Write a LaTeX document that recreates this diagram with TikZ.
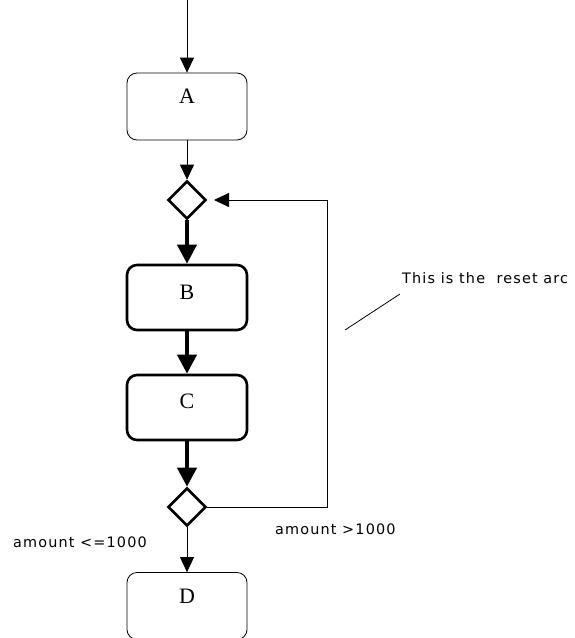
\documentclass[tikz,border=0pt]{standalone}
\usepackage{fontspec}
\setmainfont{Liberation Serif}
\newfontfamily\lblfont[LetterSpace=8]{DejaVu Sans}
\usetikzlibrary{arrows.meta,shapes.geometric}
\begin{document}
\begin{tikzpicture}[x=1pt,y=-1pt,
  thinbox/.style={draw, line width=0.8pt, rounded corners=10pt, minimum width=120pt, minimum height=67pt},
  thickbox/.style={draw, line width=2.6pt, rounded corners=10pt, minimum width=120pt, minimum height=65pt},
  dec/.style={draw, diamond, line width=2.6pt, minimum width=38pt, minimum height=38pt, inner sep=0pt},
  thinarrow/.style={line width=0.8pt, -{Triangle[length=15pt,width=14pt]}},
  thickarrow/.style={line width=4pt, -{Triangle[length=19pt,width=19pt]}},
  lbl/.style={font=\lblfont\fontsize{14.4}{16}\selectfont, inner sep=0pt},
  boxtext/.style={font=\fontsize{22}{24}\selectfont, inner sep=0pt}
]
\useasboundingbox (0,0) rectangle (574,638);
\clip (0,0) rectangle (574,638);
\coordinate (top) at (187,0);
\node[thinbox] (A) at (187,106.5) {};
\node[boxtext] at (187,96) {A};
\node[dec] (d1) at (187,200) {};
\node[thickbox] (B) at (187,297.5) {};
\node[boxtext] at (187,292) {B};
\node[thickbox] (C) at (187,407.5) {};
\node[boxtext] at (187,401) {C};
\node[dec] (d2) at (187,507) {};
\node[thinbox] (D) at (187,606) {};
\node[boxtext] at (187,596) {D};
\coordinate (c1) at (327,507);
\coordinate (c2) at (327,200);
\coordinate (c3) at (214,200);
\draw[thinarrow] (top) -- (A.north);
\draw[thinarrow] (A.south) -- (d1.north);
\draw[thickarrow] (d1.south) -- (B.north);
\draw[thickarrow] (B.south) -- (C.north);
\draw[thickarrow] (C.south) -- (d2.north);
\draw[thinarrow] (d2.south) -- (D.north);
\draw[thinarrow] (d2.east) -- (c1) -- (c2) -- (c3);
\node[lbl, anchor=west] (l1) at (13,542) {amount <=1000};
\node[lbl, anchor=west] (l2) at (275,529) {amount >1000};
\node[lbl, anchor=west] (l3) at (402,278) {This is the \ reset arc};
\coordinate (p1) at (345,330);
\coordinate (p2) at (400,294);
\draw[line width=0.8pt] (p1) -- (p2);
\end{tikzpicture}
\end{document}
